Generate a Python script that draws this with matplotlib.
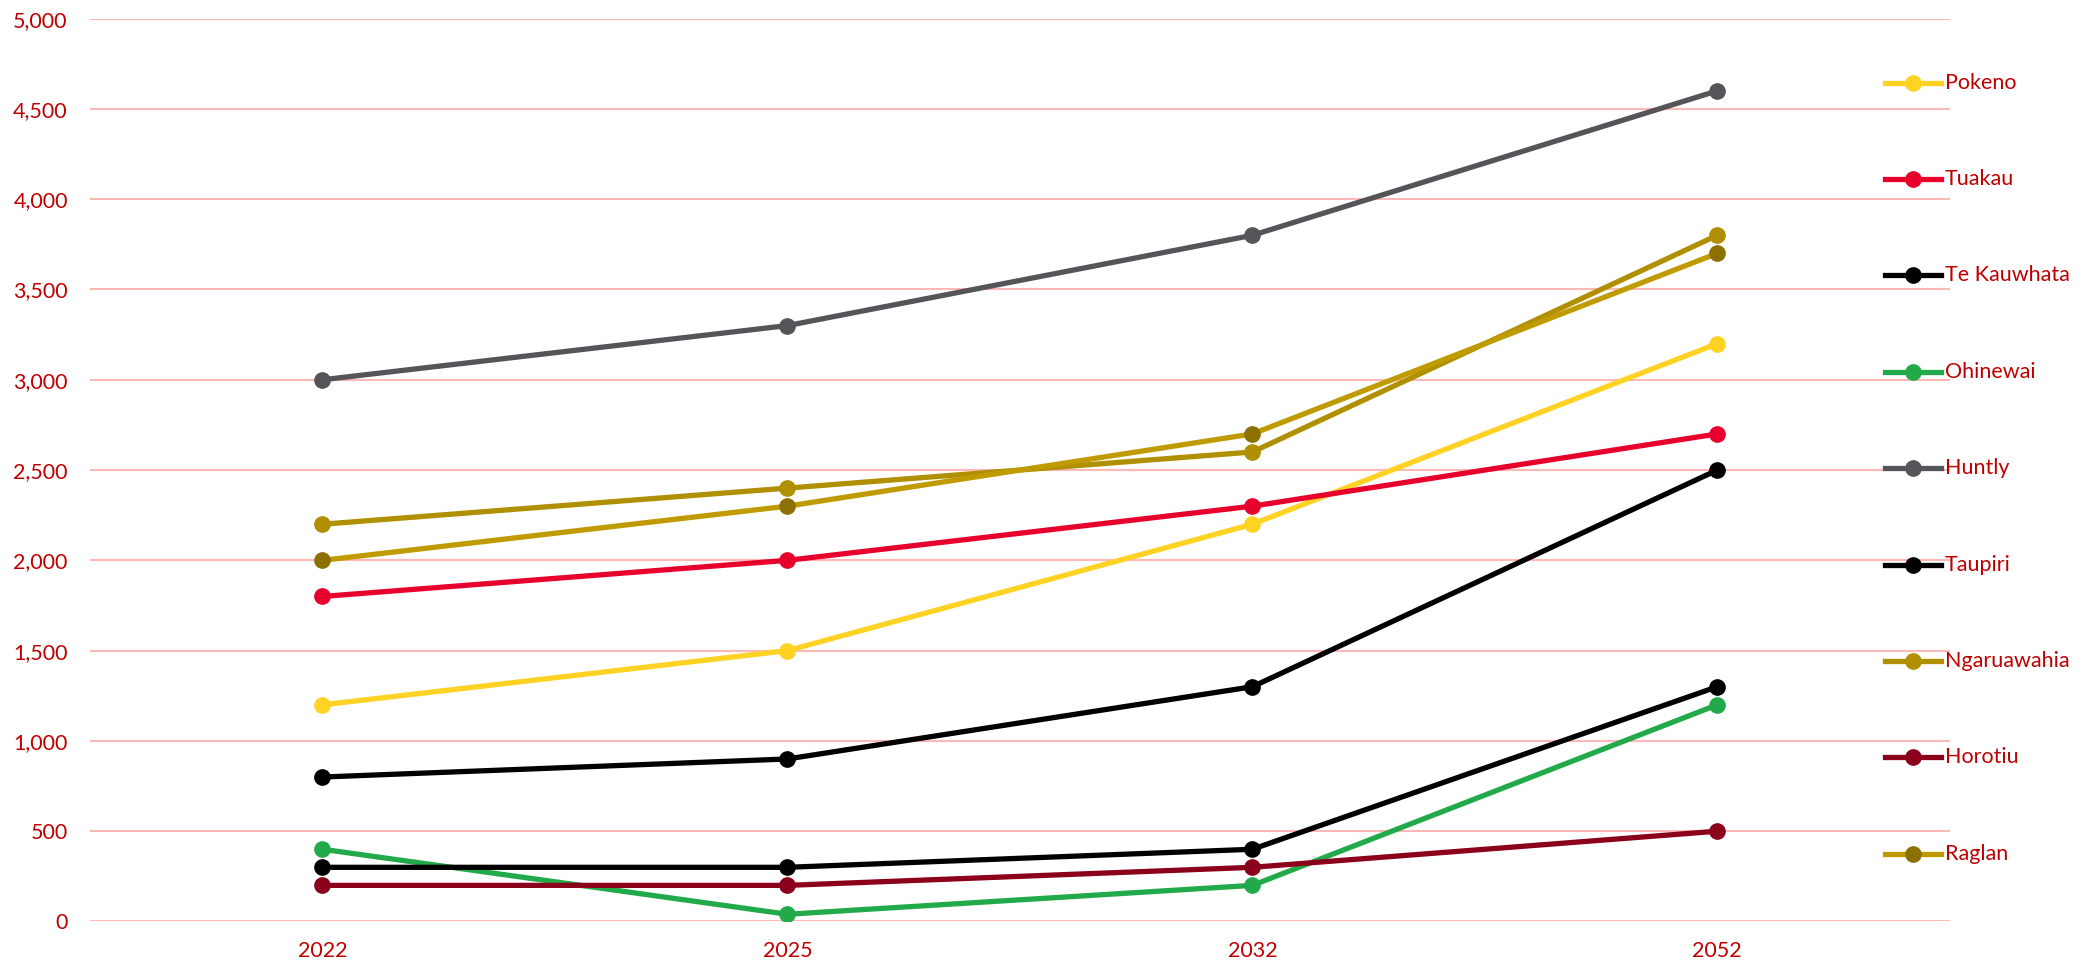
import matplotlib.pyplot as plt
from matplotlib.lines import Line2D
from matplotlib.ticker import FuncFormatter

# data
years = ["2022", "2025", "2032", "2052"]
towns = ["Pokeno", "Tuakau", "Te Kauwhata", "Ohinewai", "Huntly",
         "Taupiri", "Ngaruawahia", "Horotiu", "Raglan"]
pokeno = [1200, 1500, 2200, 3200]
tuakau = [1800, 2000, 2300, 2700]
te_kauwhata = [800, 900, 1300, 2500]
ohinewai = [400, 40, 200, 1200]
huntly = [3000, 3300, 3800, 4600]
taupiri = [300, 300, 400, 1300]
ngaruawahia = [2200, 2400, 2600, 3800]
horotiu = [200, 200, 300, 500]
raglan = [2000, 2300, 2700, 3700]

series = [pokeno, tuakau, te_kauwhata, ohinewai, huntly,
          taupiri, ngaruawahia, horotiu, raglan]
line_colors = ["#FFD224", "#E8002D", "#000000", "#22AA4A", "#555559",
               "#000000", "#B08F00", "#8B001A", "#C09B00"]
marker_colors = ["#FFD224", "#E8002D", "#000000", "#22AA4A", "#555559",
                 "#000000", "#B08F00", "#8B001A", "#8C7000"]

text_red = "#C00000"
plt.rcParams['font.family'] = ['Lato', 'DejaVu Sans']

W, H = 2088, 964
fig = plt.figure(figsize=(W / 100, H / 100), dpi=100)
ax = fig.add_axes([0.0431, 0.0441, 0.8907, 0.9366])

lw = 3.8
ms = 11
x = range(len(years))
for vals, name, lc, mc in zip(series, towns, line_colors, marker_colors):
    ax.plot(x, vals, color=lc, linewidth=lw, marker='o', markersize=ms,
            markerfacecolor=mc, markeredgecolor=mc, solid_capstyle='round', zorder=3)

ax.set_xlim(-0.5, 3.5)
ax.set_ylim(0, 5000)
ax.set_xticks(list(x))
ax.set_xticklabels(years)
ax.set_yticks(range(0, 5001, 500))
ax.yaxis.set_major_formatter(FuncFormatter(lambda v, p: f"{int(v):,}"))
ax.tick_params(axis='both', length=0, labelsize=15.5, labelcolor=text_red)
ax.tick_params(axis='y', pad=16)
ax.tick_params(axis='x', pad=14)
ax.grid(axis='y', color="#FFB8B8", linewidth=1.5, zorder=0)
for s in ax.spines.values():
    s.set_visible(False)

# legend down the right-hand side, one entry every ~96 px
for i, (name, lc, mc) in enumerate(zip(towns, line_colors, marker_colors)):
    yy = 1 - (82.6 + i * 96.4) / H
    fig.add_artist(Line2D([1885 / W, 1941 / W], [yy, yy], color=lc, linewidth=lw,
                          transform=fig.transFigure))
    fig.add_artist(Line2D([1913 / W], [yy], marker='o', markersize=ms,
                          markerfacecolor=mc, markeredgecolor=mc, linestyle='none',
                          transform=fig.transFigure))
    fig.text(1945 / W, yy, name, color=text_red, fontsize=15.5, va='center', ha='left')

fig.savefig("out.png", dpi=100)
